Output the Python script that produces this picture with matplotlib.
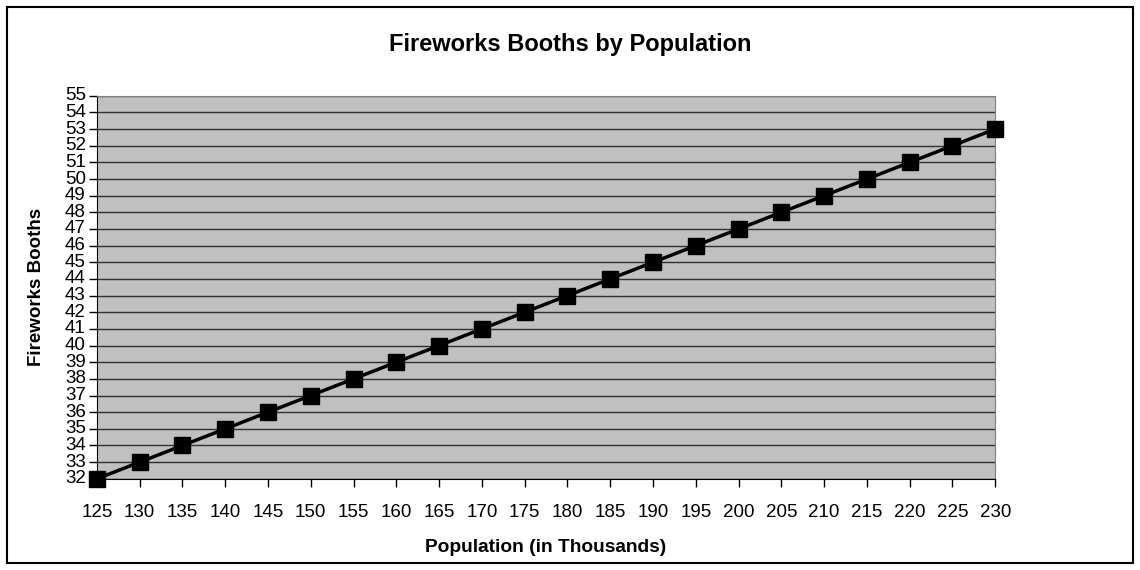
import matplotlib
matplotlib.use("Agg")
from matplotlib import pyplot as plt
from matplotlib.patches import Rectangle
import numpy as np

population = [125, 130, 135, 140, 145, 150, 155, 160, 165, 170, 175,
              180, 185, 190, 195, 200, 205, 210, 215, 220, 225, 230]
booths = [32, 33, 34, 35, 36, 37, 38, 39, 40, 41, 42,
          43, 44, 45, 46, 47, 48, 49, 50, 51, 52, 53]

plt.rcParams['font.family'] = ['Liberation Sans', 'DejaVu Sans']

fig = plt.figure(figsize=(11.4, 5.7), dpi=100)
ax = fig.add_axes([0.085, 0.160, 0.788, 0.672])

# category axis: points sit on the tick positions
pos = np.arange(len(population))
ax.plot(pos, booths, color='black', lw=2.5, marker='s', markersize=12,
        markerfacecolor='black', markeredgecolor='black', clip_on=False, zorder=5)

ax.set_facecolor('#c0c0c0')
ax.set_xlim(0, len(population) - 1)
ax.set_ylim(32, 55)
ax.set_xticks(pos)
ax.set_xticklabels([str(p) for p in population], fontsize=13.5)
ax.set_yticks(range(32, 56))
ax.tick_params(axis='y', labelsize=13.5, length=6, width=1, pad=2)
ax.tick_params(axis='x', length=6, width=1, pad=12)
for lab in ax.get_yticklabels():
    lab.set_verticalalignment('center')
ax.yaxis.grid(True, color='#303030', lw=1)
ax.set_axisbelow(True)

for s in ['top', 'right']:
    ax.spines[s].set_color('#808080')
for s in ['left', 'bottom']:
    ax.spines[s].set_color('black')

fig.text(0.5, 0.922, 'Fireworks Booths by Population', fontsize=17,
         fontweight='bold', ha='center', va='center')
ax.set_xlabel('Population (in Thousands)', fontsize=13.8, fontweight='bold', labelpad=13)
ax.set_ylabel('Fireworks Booths', fontsize=13.5, fontweight='bold', labelpad=14)

# outer frame of the chart
fig.patches.append(Rectangle((0.006, 0.012), 0.988, 0.976, transform=fig.transFigure,
                             fill=False, edgecolor='black', lw=1.5))

fig.savefig('out.png', dpi=100)
